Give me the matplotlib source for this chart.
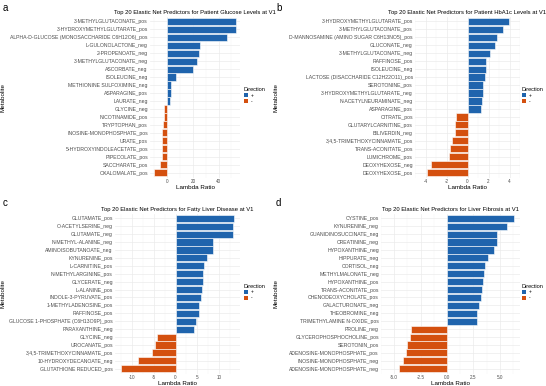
import numpy as np
import matplotlib.pyplot as plt
from matplotlib.patches import Patch

plt.rcParams['font.family'] = ['Liberation Sans', 'DejaVu Sans']

# Panel a: glucose
a_names = ["3-METHYLGLUTACONATE_pos", "3-HYDROXYMETHYLGLUTARATE_pos",
           "ALPHA-D-GLUCOSE (MONOSACCHARIDE C6H12O6)_pos", "L-GULONOLACTONE_neg",
           "2-PROPENOATE_neg", "3-METHYLGLUTACONATE_neg", "ASCORBATE_neg",
           "ISOLEUCINE_neg", "METHIONINE SULFOXIMINE_neg", "ASPARAGINE_pos",
           "LAURATE_neg", "GLYCINE_neg", "NICOTINAMIDE_pos", "TRYPTOPHAN_pos",
           "INOSINE-MONOPHOSPHATE_pos", "URATE_pos", "5-HYDROXYINDOLEACETATE_pos",
           "PIPECOLATE_pos", "SACCHARATE_pos", "OXALOMALATE_pos"]
a_vals = [53.5, 53.4, 46.5, 25.3, 25.0, 23.2, 20.0, 6.4, 2.6, 2.5, 2.0,
          -2.6, -2.8, -3.4, -3.9, -3.9, -4.0, -4.2, -5.7, -10.3]

# Panel b: HbA1c
b_names = ["3-HYDROXYMETHYLGLUTARATE_pos", "3-METHYLGLUTACONATE_pos",
           "D-MANNOSAMINE (AMINO SUGAR C6H13NO5)_pos", "GLUCONATE_neg",
           "3-METHYLGLUTACONATE_neg", "RAFFINOSE_pos", "ISOLEUCINE_neg",
           "LACTOSE (DISACCHARIDE C12H22O11)_pos", "SEROTONINE_pos",
           "3-HYDROXYMETHYLGLUTARATE_neg", "N-ACETYLNEURAMINATE_neg", "ASPARAGINE_pos",
           "CITRATE_pos", "GLUTARYLCARNITINE_pos", "BILIVERDIN_neg",
           "3,4,5-TRIMETHOXYCINNAMATE_pos", "TRANS-ACONITATE_pos", "LUMICHROME_pos",
           "DEOXYHEXOSE_neg", "DEOXYHEXOSE_pos"]
b_vals = [3.93, 3.37, 2.8, 2.6, 2.17, 1.8, 1.79, 1.63, 1.47, 1.46, 1.35, 1.27,
          -1.14, -1.19, -1.2, -1.47, -1.66, -1.74, -3.5, -3.88]

# Panel c: fatty liver
c_names = ["GLUTAMATE_pos", "O-ACETYLSERINE_neg", "GLUTAMATE_neg",
           "N-METHYL-ALANINE_neg", "AMINOISOBUTANOATE_neg", "KYNURENINE_pos",
           "L-CARNITINE_pos", "N-METHYLARGININE_pos", "GLYCERATE_neg",
           "L-ALANINE_pos", "INDOLE-3-PYRUVATE_pos", "1-METHYLADENOSINE_pos",
           "RAFFINOSE_pos", "GLUCOSE 1-PHOSPHATE (C6H13O9P)_pos", "PARAXANTHINE_neg",
           "GLYCINE_neg", "UROCANATE_pos", "3,4,5-TRIMETHOXYCINNAMATE_pos",
           "10-HYDROXYDECANOATE_neg", "GLUTATHIONE REDUCED_pos"]
c_vals = [13.5, 13.3, 13.3, 8.5, 8.5, 7.2, 6.5, 6.3, 6.2, 6.0, 5.9, 5.3, 5.3,
          4.7, 4.35, -4.35, -4.65, -5.5, -8.6, -12.6]

# Panel d: liver fibrosis
d_names = ["CYSTINE_pos", "KYNURENINE_neg", "GUANIDINOSUCCINATE_neg",
           "CREATININE_neg", "HYPOXANTHINE_neg", "HIPPURATE_neg", "CORTISOL_neg",
           "METHYLMALONATE_neg", "HYPOXANTHINE_pos", "TRANS-ACONITATE_pos",
           "CHENODEOXYCHOLATE_pos", "GALACTURONATE_neg", "THEOBROMINE_neg",
           "TRIMETHYLAMINE N-OXIDE_pos", "PROLINE_neg", "GLYCEROPHOSPHOCHOLINE_pos",
           "SEROTONIN_pos", "ADENOSINE-MONOPHOSPHATE_pos", "INOSINE-MONOPHOSPHATE_neg",
           "ADENOSINE-MONOPHOSPHATE_neg"]
d_vals = [6.38, 5.72, 4.77, 4.76, 4.45, 3.9, 3.65, 3.5, 3.45, 3.3, 3.25, 3.0,
          2.87, 2.82, -3.39, -3.53, -3.74, -3.88, -4.17, -4.51]

titles = ["Top 20 Elastic Net Predictors for Patient Glucose Levels at V1",
          "Top 20 Elastic Net Predictors for Patient HbA1c Levels at V1",
          "Top 20 Elastic Net Predictors for Fatty Liver Disease at V1",
          "Top 20 Elastic Net Predictors for Liver Fibrosis at V1"]
letters = ["a", "b", "c", "d"]
xticks = [[0, 20, 40], [-4, -2, 0, 2, 4], [-10, -5, 0, 5, 10],
          [-5.0, -2.5, 0.0, 2.5, 5.0]]
ticklabels = [["0", "20", "40"], ["-4", "-2", "0", "2", "4"],
              ["-10", "-5", "0", "5", "10"], ["-5.0", "-2.5", "0.0", "2.5", "5.0"]]

BLUE = "#1f64ad"
ORANGE = "#d4500f"
W, H = 546, 386

fig = plt.figure(figsize=(W / 100, H / 100), dpi=100)

# axes boxes in pixels: left, right, top, bottom
boxes = [(150, 240, 16.5, 177.5), (415, 520, 16.5, 177.5),
         (115, 240, 213.5, 373.5), (381, 520, 213.5, 373.5)]
quad = [(0, 0), (273, 0), (0, 195), (273, 195)]

panels = [(a_names, a_vals), (b_names, b_vals), (c_names, c_vals), (d_names, d_vals)]

for i, (names, vals) in enumerate(panels):
    l, r, t, b = boxes[i]
    ax = fig.add_axes([l / W, 1 - b / H, (r - l) / W, (b - t) / H])
    vals = np.array(vals)
    y = np.arange(len(vals))[::-1]
    colors = [BLUE if v > 0 else ORANGE for v in vals]
    ax.barh(y, vals, height=0.9, color=colors, edgecolor="white", linewidth=0.4,
            zorder=3)
    lo, hi = min(vals.min(), 0), max(vals.max(), 0)
    pad = (hi - lo) * 0.05
    ax.set_xlim(lo - pad, hi + pad)
    ax.set_ylim(-0.6, len(vals) - 0.4)
    ax.set_yticks(y)
    ax.set_yticklabels(names, fontsize=3.7, color="#4d4d4d")
    ax.set_xticks(xticks[i])
    ax.set_xticklabels(ticklabels[i], fontsize=3.3, color="#4d4d4d")
    mt = xticks[i]
    step = mt[1] - mt[0]
    minors = [m + step / 2 for m in [mt[0] - step] + mt]
    ax.set_xticks(minors, minor=True)
    ax.tick_params(axis="y", length=0, pad=1.5, which="both")
    ax.tick_params(axis="x", length=0, pad=1.0, which="both")
    ax.grid(True, which="major", color="#ebebeb", linewidth=0.5, zorder=0)
    ax.grid(True, which="minor", axis="x", color="#f4f4f4", linewidth=0.3, zorder=0)
    for s in ax.spines.values():
        s.set_visible(False)
    ax.set_title(titles[i], fontsize=4.2, pad=2.0)
    ax.set_xlabel("Lambda Ratio", fontsize=4.5, labelpad=0.8)
    ax.set_ylabel("Metabolite", fontsize=4.5)
    ax.yaxis.set_label_coords(-(l - quad[i][0] - 6) / (r - l), 0.5)

    qx, qy = quad[i]
    fig.text((qx + 3) / W, 1 - (qy + 11) / H, letters[i], fontsize=7)

    handles = [Patch(facecolor=BLUE, label="+"), Patch(facecolor=ORANGE, label="-")]
    leg_x = r + 4 if r < 300 else W - 24
    leg = fig.legend(handles=handles, title="Direction", fontsize=3.5,
                     title_fontsize=4.0, frameon=False,
                     loc="upper left",
                     bbox_to_anchor=(leg_x / W, 1 - ((t + b) / 2 - 10) / H),
                     handlelength=0.9, handleheight=0.9, handletextpad=0.5,
                     labelspacing=0.2, borderpad=0.0, borderaxespad=0.0)
    leg._legend_box.align = "left"

fig.savefig("out.png", dpi=100)
